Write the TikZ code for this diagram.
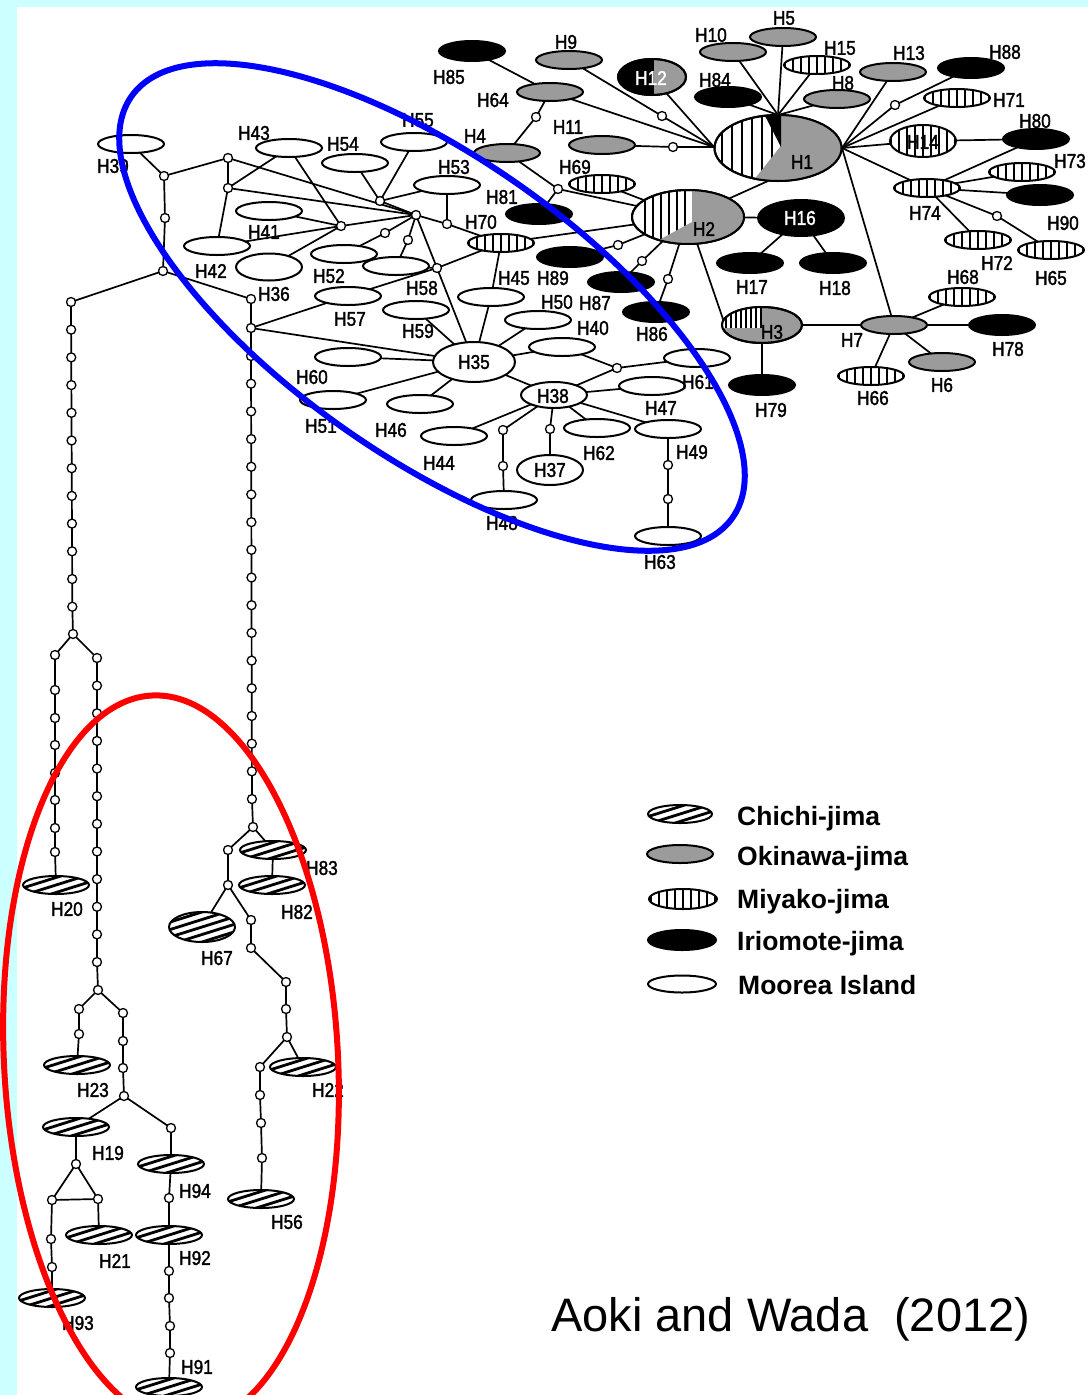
\documentclass[tikz,border=0pt]{standalone}
\usepackage{fontspec}
\usetikzlibrary{shapes.geometric}
\newfontfamily\hf[FakeStretch=0.86,FakeBold=1.6]{Liberation Sans}
\newfontfamily\lf{Liberation Sans}
\definecolor{cyanbg}{RGB}{204,255,255}
\definecolor{okig}{RGB}{155,155,155}
\definecolor{blueC}{RGB}{0,0,255}
\definecolor{redC}{RGB}{255,0,0}
\pgfdeclarelayer{bg}
\pgfsetlayers{bg,main}
\begin{document}
\begin{tikzpicture}[x=1pt,y=-1pt,
 hap/.style={ellipse, draw, line width=2pt, minimum width=66pt, minimum height=18pt, inner sep=0pt, fill=white},
 oki/.style={hap, fill=okig},
 iri/.style={hap, fill=black, minimum height=20pt},
 miy/.style={hap, path picture={\foreach \k in {-5,...,5} \draw[line width=1.9pt] ([xshift=\k*8pt]path picture bounding box.north) -- ([xshift=\k*8pt]path picture bounding box.south);}},
 chi/.style={hap, path picture={\foreach \k in {-6,...,6} \draw[line width=2.8pt] ([xshift=-70pt,yshift=\k*7.5pt-22pt]path picture bounding box.center) -- ([xshift=70pt,yshift=\k*7.5pt+22pt]path picture bounding box.center);}},
 mv/.style={circle, draw, line width=1.3pt, fill=white, minimum size=9pt, inner sep=0pt},
 lab/.style={font=\hf\fontsize{20}{20}\selectfont, inner sep=0pt},
 wlab/.style={lab, text=white},
 ln/.style={line width=1.7pt},
 leg/.style={font=\lf\bfseries\fontsize{26.5}{26.5}\selectfont, inner sep=0pt, anchor=base west}
]
\useasboundingbox (0,0) rectangle (1088,1395);
\begin{pgfonlayer}{bg}
\fill[cyanbg] (0,0) rectangle (1088,1395);
\fill[white] (17,7) rectangle (1088,1395);
\end{pgfonlayer}

% ---------- Moorea (white)
\foreach \n/\x/\y in {H39/131/144, H43/289/148, H54/355/163, H55/414/142, H53/447/185, H41/269/211, H42/217/246, H52/344/254, H58/396/266, H57/348/296, H59/416/310, H45/491/297, H50/538/320, H40/562/347, H60/348/357, H51/333/400, H46/420/404, H44/454/436, H61/697/358, H47/652/386, H49/668/429, H62/597/428, H48/504/500, H63/668/536}
  \node[hap] (\n) at (\x,\y) {};
\node[hap, minimum width=82pt, minimum height=40pt] (H35) at (474,362) {};
\node[hap, minimum height=27pt] (H36) at (269,267) {};
\node[hap, minimum height=26pt] (H38) at (554,395) {};
\node[hap, minimum height=30pt] (H37) at (550,470) {};
% ---------- Okinawa (grey)
\foreach \n/\x/\y in {H9/569/60, H64/550/92, H10/733/52, H5/783/37, H8/837/99, H13/893/72, H11/602/145, H4/507/153, H7/894/325, H6/942/362}
  \node[oki] (\n) at (\x,\y) {};
% ---------- Iriomote (black)
\foreach \n/\x/\y in {H85/472/51, H84/728/97, H88/971/68, H80/1036/139, H90/1040/195, H17/750/263, H18/833/263, H79/762/385, H78/1002/325, H81/539/214, H89/570/257, H87/621/282, H86/656/312}
  \node[iri] (\n) at (\x,\y) {};
\node[iri, minimum width=86pt, minimum height=36pt] (H16) at (801,218) {};
% ---------- Miyako (stripes)
\foreach \n/\x/\y in {H15/817/65, H71/957/98, H69/602/184, H70/501/243, H74/927/188, H73/1022/172, H72/978/240, H65/1051/250, H68/962/297, H66/871/376}
  \node[miy] (\n) at (\x,\y) {};
\node[miy, minimum height=32pt] (H14) at (923,141) {};
% ---------- Chichi (hatched)
\foreach \n/\x/\y in {H20/56/885, H83/273/850, H82/272/885, H23/77/1065, H19/76/1127, H94/171/1164, H92/169/1235, H21/99/1235, H93/52/1298, H91/169/1387, H22/303/1067, H56/261/1199}
  \node[chi] (\n) at (\x,\y) {};
\node[chi, minimum height=30pt] (H67) at (202,927) {};
% ---------- mixed haplotypes
\node[hap, minimum width=127pt, minimum height=66pt] (H1) at (778,148) {};
\begin{scope}
\clip (778,148) ellipse [x radius=63.5pt, y radius=33pt];
\foreach \xx in {722,732,...,772} \draw[line width=2.3pt] (\xx,100) -- (\xx,200);
\fill[okig] (780,100) -- (860,100) -- (860,200) -- (738,200) -- (780,147) -- cycle;
\fill[black] (762,110) -- (781,110) -- (781,147) -- cycle;
\end{scope}
\draw[line width=2pt] (778,148) ellipse [x radius=63.5pt, y radius=33pt];
\node[hap, minimum width=112pt, minimum height=54pt] (H2) at (688,217) {};
\begin{scope}
\clip (688,217) ellipse [x radius=56pt, y radius=27pt];
\foreach \xx in {645,653,...,685} \draw[line width=2pt] (\xx,185) -- (\xx,250);
\fill[okig] (692,182) -- (760,182) -- (760,252) -- (637,252) -- (692,222) -- cycle;
\end{scope}
\draw[line width=2pt] (688,217) ellipse [x radius=56pt, y radius=27pt];
\node[oki, minimum width=80pt, minimum height=36pt] (H3) at (762,325) {};
\begin{scope}
\clip (762,325) ellipse [x radius=40pt, y radius=18pt];
\fill[white] (715,300) rectangle (762,328);
\foreach \xx in {726,731,...,761} \draw[line width=1.4pt] (\xx,300) -- (\xx,328);
\end{scope}
\draw[line width=2pt] (762,325) ellipse [x radius=40pt, y radius=18pt];
\node[oki, minimum width=68pt, minimum height=36pt] (H12) at (652,77) {};
\begin{scope}
\clip (652,77) ellipse [x radius=34pt, y radius=18pt];
\fill[black] (610,50) rectangle (654,105);
\end{scope}
\draw[line width=2pt] (652,77) ellipse [x radius=34pt, y radius=18pt];
\coordinate (H1t) at (778,115);
\coordinate (H1l) at (714,147);
\coordinate (H1r) at (842,148);
\coordinate (H1b) at (768,181);
\coordinate (H3l) at (724,322);

% ---------- median vectors
\foreach \n/\x/\y in {m1/536/117, m2/662/116, m3/673/147, m4/895/105, m5/997/216,
 c1/164/176, c2/228/158, c3/228/188, c4/165/218, c5/163/271, c6/251/299, c7/251/328, c8/380/201, c9/341/226, c10/416/215, c11/385/233, c12/408/240, c13/447/224, c14/437/268, c15/558/189, c16/618/245, c17/642/261, c18/668/279, c19/617/368, c20/550/429, c21/503/430, c22/503/466, c23/668/465, c24/668/499,
 JL/73/634, JR/253/827, JLR/98/990, LL1/55/655, LL2/55/690, LL3/55/718, LL4/55/745, LL5/55/773, LL6/55/800, LL7/55/828, LL8/55/852,
 a1/79/1009, a2/79/1034, b1/123/1013, b2/123/1041, b3/123/1068, JB/124/1096, b4/171/1128, b5/169/1198, b6/169/1271, b7/169/1298, b8/170/1326, b9/170/1353,
 t1/76/1164, t2/52/1200, t3/98/1199, t4/51/1239, t5/52/1267,
 r1/228/850, r2/228/885, r3/251/920, r4/251/948, r5/286/982, r6/286/1009, r7/287/1037, r8/260/1067, r9/260/1095, r10/261/1123, r11/262/1158}
  \node[mv] (\n) at (\x,\y) {};
\foreach \i in {1,...,12} \node[mv] (L\i) at ({71+0.12*(\i-1)},{302+27.7*(\i-1)}) {};
\foreach \i in {1,...,17} \node[mv] (R\i) at ({251+0.06*(\i-1)},{356+27.69*(\i-1)}) {};
\foreach \i in {1,...,12} \node[mv] (LR\i) at (97,{658+27.64*(\i-1)}) {};

% ---------- connectors
\begin{pgfonlayer}{bg}
\foreach \a/\b in {H85/H64, H64/m1, m1/H4, H64/H1l, H9/m2, m2/H1l, H12/H1l, H11/m3, m3/H1l,
 H10/H1t, H5/H1t, H15/H1t, H84/H1t, H8/H1t, H1r/H13, H1r/m4, m4/H88, H1r/H71, H1r/H14, H1r/H74, H1r/H7,
 H14/H80, H74/H80, H74/H73, H74/H90, H74/H72, H74/m5, m5/H65, H2/H1b, H2/H16, H16/H17, H16/H18,
 H2/H3l, H3/H7, H3/H79, H7/H68, H7/H78, H7/H66, H7/H6, H4/c15, c15/H2, c15/H81, H69/H2, H70/H2,
 H2/c16, c16/H89, H2/c17, c17/H87, H2/c18, c18/H86,
 H39/c1, c1/c2, c1/c4, c4/c5, c5/L1, c5/c6, c6/c7, c7/R1, c2/c3, c2/c10, c3/H43, c3/H42, c3/c10,
 H43/c9, H41/c9, H42/c9, c9/H36, c9/c10, H54/c8, H55/c8, c8/H53, c8/c10, c10/c11, c11/H52, c10/c12, c12/H58,
 c10/c13, c13/H70, H53/c13, c10/c14, c14/H35, c14/H70, c14/H57, c14/H58, H70/H45, H45/H35, H59/H35,
 c7/H57, c7/H35, H60/H35, H51/H35, H46/H35, H35/H50, H35/H40, H35/H38, H44/H38, H38/c19, c19/H40, c19/H61,
 H38/H47, H38/H62, H38/c20, c20/H37, H38/c21, c21/c22, c22/H48, H38/H49, H49/c23, c23/c24, c24/H63,
 L12/JL, R17/JR, JL/LL1, LL1/LL2, LL2/LL3, LL3/LL4, LL4/LL5, LL5/LL6, LL6/LL7, LL7/LL8, LL8/H20,
 JL/LR1, LR12/JLR, JLR/a1, a1/a2, a2/H23, JLR/b1, b1/b2, b2/b3, b3/JB, JB/H19, JB/b4, b4/H94, H94/b5, b5/H92,
 H92/b6, b6/b7, b7/b8, b8/b9, b9/H91, H19/t1, t1/t2, t1/t3, t2/t3, t3/H21, t2/t4, t4/t5, t5/H93,
 JR/r1, JR/H83, H83/H82, r1/r2, r2/H67, r2/r3, r3/r4, r4/r5, r5/r6, r6/r7, r7/H22, r7/r8, r8/r9, r9/r10, r10/r11, r11/H56}
  \draw[ln] (\a.center) -- (\b.center);
\foreach \i [count=\j from 2] in {1,...,11} \draw[ln] (L\i.center) -- (L\j.center);
\foreach \i [count=\j from 2] in {1,...,16} \draw[ln] (R\i.center) -- (R\j.center);
\foreach \i [count=\j from 2] in {1,...,11} \draw[ln] (LR\i.center) -- (LR\j.center);
\end{pgfonlayer}

% ---------- labels
\foreach \n/\x/\y in {H85/449/77, H9/566/42, H64/493/100, H10/711/35, H5/784/18, H15/840/48, H84/715/80, H8/843/83, H13/909/53, H88/1005/52, H71/1009/100, H1/802/162, H11/568/127, H4/475/136, H69/575/167, H14/923/142, H80/1035/121, H73/1070/161, H74/925/213, H90/1063/223, H72/997/263, H65/1051/278, H2/704/229, H17/752/287, H18/835/288, H3/772/332, H79/771/410, H7/852/340, H68/963/277, H78/1008/349, H66/873/398, H6/942/385,
 H81/502/197, H70/481/222, H89/553/278, H87/595/303, H86/652/334, H45/514/278, H50/557/302, H40/593/328, H35/474/362, H61/698/382, H47/661/408, H38/553/396, H49/692/452, H62/599/453, H37/550/470, H48/502/523, H63/660/562, H44/439/463, H46/391/430, H51/321/426, H60/312/377, H57/350/319, H59/418/331, H58/422/288, H52/329/276, H36/274/294, H41/264/232, H42/211/271, H43/254/133, H54/343/144, H55/418/120, H53/454/167, H39/113/166,
 H20/67/909, H83/322/868, H82/297/912, H67/217/958, H23/93/1090, H22/328/1090, H19/108/1153, H94/195/1191, H56/287/1222, H21/115/1261, H92/195/1258, H93/78/1323, H91/197/1367}
  \node[lab] (l\n) at (\x,\y) {\n};
\node[wlab] (lH12) at (651,78) {H12};
\node[wlab] (lH16) at (800,218) {H16};

% ---------- legend
\node[chi, minimum width=64pt] (g1e) at (680,814) {};
\node[oki, minimum width=66pt] (g2e) at (680,854) {};
\node[miy, minimum width=68pt, minimum height=20pt] (g3e) at (683,899) {};
\node[iri, minimum width=68pt] (g4e) at (682,940) {};
\node[hap, minimum width=68pt, minimum height=17pt] (g5e) at (682,984) {};
\node[leg] (g1) at (737,825) {Chichi-jima};
\node[leg] (g2) at (737,865) {Okinawa-jima};
\node[leg] (g3) at (737,908) {Miyako-jima};
\node[leg] (g4) at (737,950) {Iriomote-jima};
\node[leg] (g5) at (738,994) {Moorea Island};
\node[font=\lf\fontsize{47}{47}\selectfont, anchor=base west, inner sep=0pt] (cite) at (551,1331) {Aoki and Wada\ \ (2012)};

% ---------- highlight ellipses
\node[draw=blueC, line width=6pt, ellipse, minimum width=734pt, minimum height=300pt, inner sep=0pt, rotate=-35] (blueE) at (432,307) {};
\node[draw=redC, line width=6pt, ellipse, minimum width=334pt, minimum height=730pt, inner sep=0pt, rotate=3] (redE) at (171,1060) {};
\end{tikzpicture}
\end{document}
